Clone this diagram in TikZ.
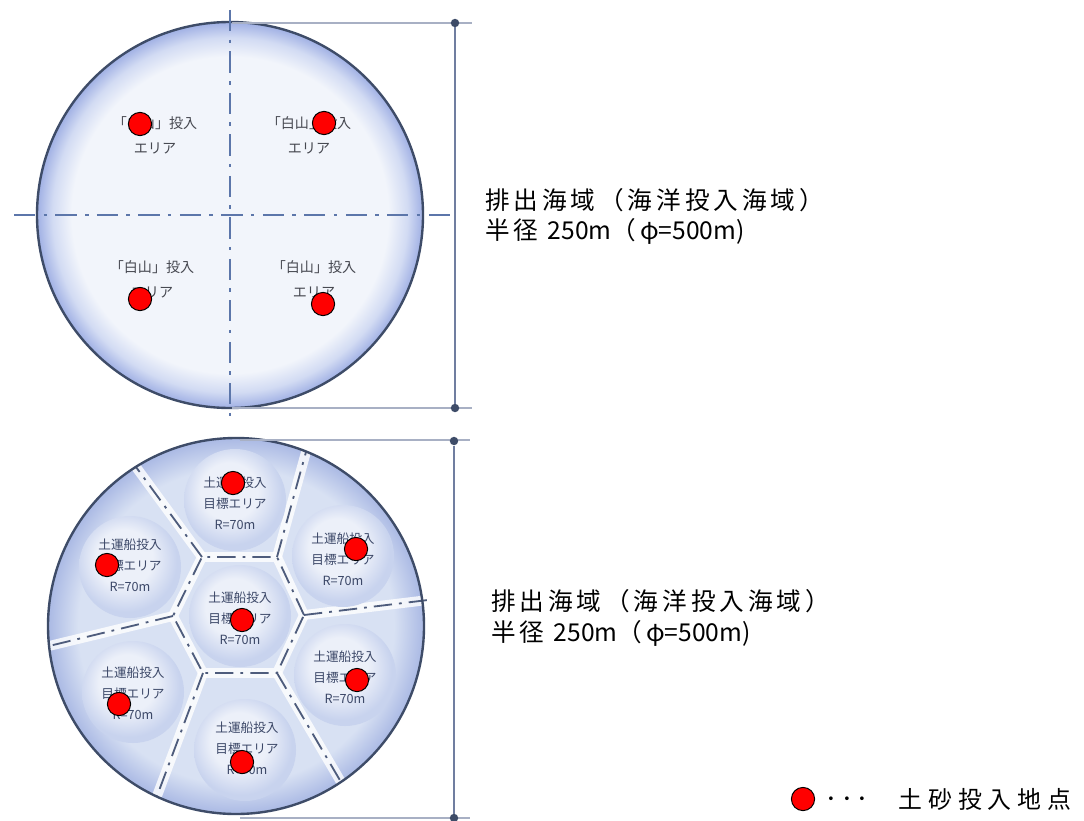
\documentclass[tikz,border=0pt]{standalone}
\usepackage{fontspec}
\newfontfamily\jp{Noto Sans CJK JP}
\newfontfamily\jpwide[LetterSpace=16]{Noto Sans CJK JP}
\newfontfamily\jpwider[LetterSpace=24]{Noto Sans CJK JP}
\definecolor{domePale}{RGB}{242,245,251}
\definecolor{domeMid}{RGB}{210,219,243}
\definecolor{domeRing}{RGB}{160,176,228}
\definecolor{lowPale}{RGB}{216,225,243}
\definecolor{lowRing}{RGB}{170,185,228}
\definecolor{cellPale}{RGB}{236,240,249}
\definecolor{cellRing}{RGB}{200,211,238}
\definecolor{rimGray}{RGB}{62,76,104}
\definecolor{axisBlue}{RGB}{92,118,170}
\definecolor{hexGray}{RGB}{78,92,124}
\definecolor{dimGray}{RGB}{168,176,196}
\definecolor{dimDark}{RGB}{112,126,160}
\definecolor{labGray}{RGB}{70,72,80}
\definecolor{labBlue}{RGB}{60,72,104}
\pgfdeclareradialshading{domeTop}{\pgfpoint{0bp}{0bp}}{color(0bp)=(domePale); color(20.5bp)=(domePale); color(23bp)=(domeMid); color(25bp)=(domeRing); color(50bp)=(domeRing)}
\pgfdeclareradialshading{domeLow}{\pgfpoint{0bp}{0bp}}{color(0bp)=(lowPale); color(21bp)=(lowPale); color(25bp)=(lowRing); color(50bp)=(lowRing)}
\pgfdeclareradialshading{cellShade}{\pgfpoint{-4bp}{6bp}}{color(0bp)=(cellPale); color(14bp)=(cellPale); color(25bp)=(cellRing); color(50bp)=(cellRing)}
\tikzset{
 rimline/.style={draw=rimGray, line width=1.7pt},
 axisline/.style={draw=axisBlue, line width=2.1pt, dash pattern=on 15pt off 6pt on 2.5pt off 6pt},
 hexline/.style={draw=hexGray, line width=1.3pt, dash pattern=on 13pt off 5pt on 2pt off 5pt},
 band/.style={draw=white, line width=7pt, opacity=.8, line join=round},
 dimline/.style={draw=dimGray, line width=1.3pt},
 dimpost/.style={draw=dimDark, line width=1.4pt},
 dimdot/.style={circle, fill=rimGray, minimum size=6pt, inner sep=0pt},
 spot/.style={circle, draw=black, fill=red, line width=.7pt, minimum size=16.5pt, inner sep=0pt},
 areatext/.style={align=center, text=labGray, font=\jp\fontsize{10}{17.8}\selectfont},
 celltext/.style={align=center, text=labBlue, font=\jp\fontsize{9}{15}\selectfont},
 seatext/.style={align=left, anchor=west, inner sep=0pt, font=\jpwide\fontsize{17.5}{21.5}\selectfont},
 keytext/.style={inner sep=0pt, font=\jpwider\fontsize{17}{21}\selectfont}
}
\newcommand\radiustext{半径 {\jp 250m}（φ{\jp =500m)}}
\begin{document}
\begin{tikzpicture}[x=.025cm,y=-.025cm]
 \useasboundingbox[fill=white] (0,0) rectangle (1084,821);

	\begin{scope}
 \shade[shading=domeTop] (230,215) circle (193);
 \draw[rimline] (230,215) circle (193);
 \draw[axisline] (14,215) -- (455,215);
 \draw[axisline] (230,10) -- (230,418);
	\end{scope}

 \coordinate (topA) at (232,23);
 \coordinate (topB) at (472,23);
 \coordinate (botA) at (232,408);
 \coordinate (botB) at (472,408);
 \draw[dimline] (topA) -- (topB);
 \draw[dimline] (botA) -- (botB);
 \node[dimdot] (dimTop) at (455,23) {};
 \node[dimdot] (dimBot) at (455,408) {};
 \draw[dimpost] (dimTop) -- (dimBot);

 \node[areatext] (areaNW) at (155,135.5) {「白山」投入\\エリア};
 \node[areatext] (areaNE) at (309,135.5) {「白山」投入\\エリア};
 \node[areatext] (areaSW) at (152,279) {「白山」投入\\エリア};
 \node[areatext] (areaSE) at (314,279) {「白山」投入\\エリア};

 \node[seatext] (seaTop) at (485,216.5) {排出海域（海洋投入海域）\\\radiustext};

	\begin{scope}
 \shade[shading=domeLow] (236,626) circle (188);
 \coordinate (h0) at (304,615);
 \coordinate (h1) at (277,557);
 \coordinate (h2) at (202,557);
 \coordinate (h3) at (173,616);
 \coordinate (h4) at (203,673);
 \coordinate (h5) at (277,673);
 \coordinate (e0) at (428,600);
 \coordinate (e1) at (306,452);
 \coordinate (e2) at (136,467);
 \coordinate (e3) at (49,646);
 \coordinate (e4) at (157,796);
 \coordinate (e5) at (341,782);
 \draw[band] (h0) -- (h1) -- (h2) -- (h3) -- (h4) -- (h5) -- cycle;
 \foreach \k in {0,...,5} \draw[band] (h\k) -- (e\k);
 \foreach \c in {(235,500),(343,556),(345,675),(245,750),(133,692),(130,567),(240,616)}
 \shade[shading=cellShade] \c circle (51);
 \draw[hexline] (h0) -- (h1) -- (h2) -- (h3) -- (h4) -- (h5) -- cycle;
 \foreach \k in {0,...,5} \draw[hexline] (h\k) -- (e\k);
 \draw[rimline] (236,626) circle (188);
	\end{scope}

 \node[celltext] (cellN) at (235,503) {土運船投入\\目標エリア\\R=70m};
 \node[celltext] (cellNE) at (343,559) {土運船投入\\目標エリア\\R=70m};
 \node[celltext] (cellSE) at (345,677) {土運船投入\\目標エリア\\R=70m};
 \node[celltext] (cellS) at (247,748) {土運船投入\\目標エリア\\R=70m};
 \node[celltext] (cellSW) at (133,693) {土運船投入\\目標エリア\\R=70m};
 \node[celltext] (cellNW) at (130,565) {土運船投入\\目標エリア\\R=70m};
 \node[celltext] (cellC) at (240,618) {土運船投入\\目標エリア\\R=70m};

 \coordinate (lowA) at (240,440);
 \coordinate (lowB) at (470,440);
 \coordinate (lowC) at (240,818);
 \coordinate (lowD) at (470,818);
 \draw[dimline] (lowA) -- (lowB);
 \draw[dimline] (lowC) -- (lowD);
 \node[dimdot] (dimLowTop) at (454,441) {};
 \node[dimdot] (dimLowBot) at (454,818) {};
 \draw[dimpost] (dimLowTop) -- (dimLowBot);

 \node[seatext] (seaLow) at (491,618) {排出海域（海洋投入海域）\\\radiustext};

 \foreach \p [count=\i] in {(140,124),(324,123),(140,299),(323,304),(233,483),(356,549),(107,565),(242,620),(357,680),(119,704),(242,762)}
 \node[spot] (spot\i) at \p {};

 \node[spot] (keySpot) at (803,799) {};
 \node[inner sep=0pt, font=\fontsize{23}{25}\selectfont] (keyDots) at (847,800) {$\cdots$};
 \node[keytext] (keyLabel) at (985,799) {土砂投入地点};
\end{tikzpicture}
\end{document}
